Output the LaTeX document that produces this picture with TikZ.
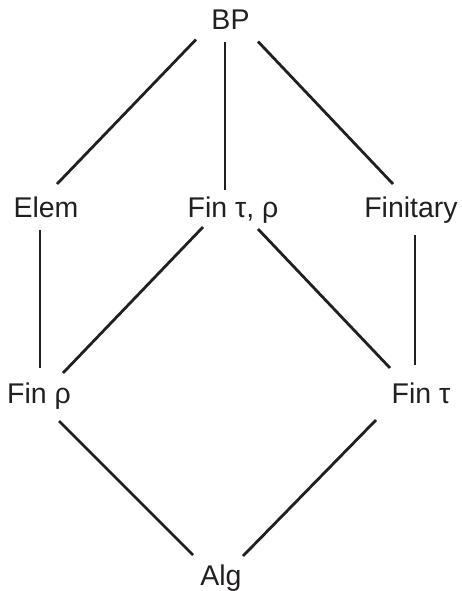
\documentclass[tikz,border=0pt]{standalone}
\usepackage{fontspec}
\setmainfont{Liberation Sans}
\definecolor{ink}{HTML}{231F20}
\begin{document}
\begin{tikzpicture}[x=1pt,y=-1pt,
  lbl/.style={anchor=base,inner sep=0pt,text=ink,font=\fontsize{28.5}{34}\selectfont},
  edge/.style={draw=ink,line width=2.8pt}]
\useasboundingbox (0,0) rectangle (461,591);
\node[lbl] (BP) at (230.5,29.5) {BP};
\node[lbl] (Elem) at (46,217) {Elem};
\node[lbl] (FTR) at (233,217) {Fin τ, ρ};
\node[lbl] (Fty) at (411,217) {Finitary};
\node[lbl] (FR) at (39,403) {Fin ρ};
\node[lbl] (FT) at (421,403) {Fin τ};
\node[lbl] (Alg) at (221,585) {Alg};
\draw[edge] ([shift={(-34.5,10)}]BP.base) -- ([shift={(11,-33)}]Elem.base);
\draw[edge] ([shift={(-5.5,13)}]BP.base) -- ([shift={(-8,-27)}]FTR.base);
\draw[edge] ([shift={(27.5,12)}]BP.base) -- ([shift={(-18,-33)}]Fty.base);
\draw[edge] ([shift={(-6,13)}]Elem.base) -- ([shift={(1,-35)}]FR.base);
\draw[edge] ([shift={(-30,10)}]FTR.base) -- ([shift={(24,-30)}]FR.base);
\draw[edge] ([shift={(25,12)}]FTR.base) -- ([shift={(-31,-35)}]FT.base);
\draw[edge] ([shift={(4,18)}]Fty.base) -- ([shift={(-6,-38)}]FT.base);
\draw[edge] ([shift={(20,18)}]FR.base) -- ([shift={(-28,-30)}]Alg.base);
\draw[edge] ([shift={(-45,17)}]FT.base) -- ([shift={(22,-29)}]Alg.base);
\end{tikzpicture}
\end{document}
